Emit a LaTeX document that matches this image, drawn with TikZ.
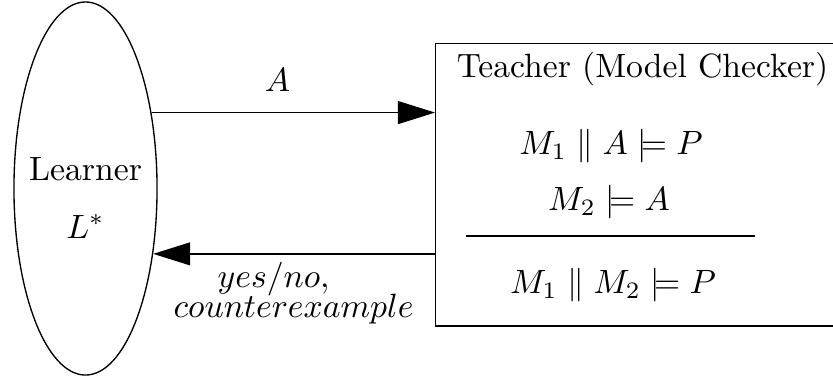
\documentclass[tikz,border=0pt]{standalone}
\usetikzlibrary{shapes.geometric,arrows.meta}
\begin{document}
\begin{tikzpicture}[x=0.297pt, y=-0.297pt, >={Triangle[length=11pt,width=6.8pt]},
  agent/.style={draw, ellipse, inner sep=0pt, minimum width=42.5pt, minimum height=110.8pt},
  oracle/.style={draw, rectangle, inner sep=0pt, anchor=north west, minimum width=123.3pt, minimum height=83.8pt},
  txt/.style={inner sep=0pt}]
  \useasboundingbox (0,0) rectangle (833,380);

  \node[agent] (learner) at (85.5,188.5) {};
  \node[txt, anchor=base] (lname) at (85.5,180) {Learner};
  \node[txt, anchor=base] (lstar) at (85.5,238) {$L^*$};

  \node[oracle] (teacher) at (435,43) {};
  \node[txt, anchor=base] (title) at (642.5,77) {Teacher (Model Checker)};

  % assume-guarantee rule
  \node[txt, anchor=base] (prem1) at (611,154) {$M_1 \parallel A \models P$};
  \node[txt, anchor=base] (prem2) at (609,210) {$M_2 \models A$};
  \node[txt, anchor=base] (concl) at (613,293) {$M_1 \parallel M_2 \models P$};
  \coordinate (rl) at (466,236);
  \coordinate (rr) at (755,236);
  \draw (rl) -- (rr);

  % queries and answers
  \draw[->] (learner.49) -- node[pos=0.444, above=2.6pt] (query) {$A$} (learner.49 -| teacher.west);
  \draw[->] (learner.-44 -| teacher.west) -- (learner.-44);
  \node[txt, anchor=base west] (ans1) at (217,287) {$yes/no,$};
  \node[txt, anchor=base west] (ans2) at (173,317) {$counterexample$};
\end{tikzpicture}
\end{document}
